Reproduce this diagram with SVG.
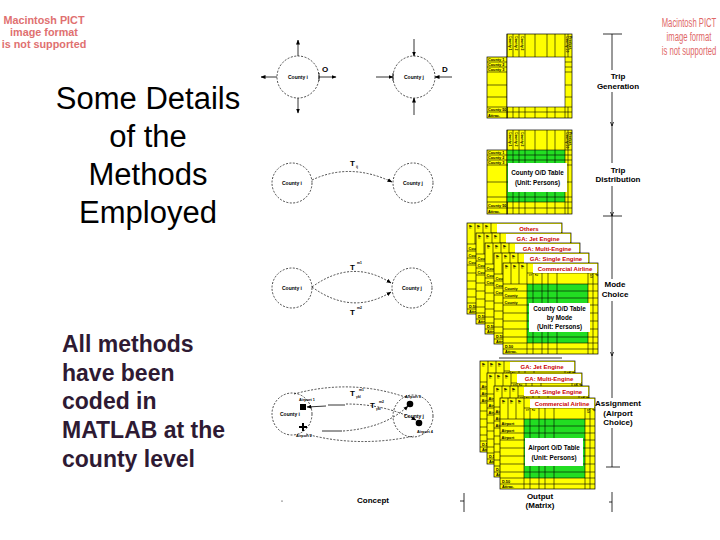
<svg xmlns="http://www.w3.org/2000/svg" width="720" height="540" viewBox="0 0 720 540">
<style>
.pict{font-family:"Liberation Sans",Arial,sans-serif;font-weight:bold;font-size:10.8px;fill:#e07070;text-anchor:middle}
.pict2{font-family:"Liberation Sans",Arial,sans-serif;font-size:12px;fill:#e06868;text-anchor:middle}
.title{font-family:"Liberation Sans",Arial,sans-serif;font-size:31px;fill:#000;text-anchor:middle}
.note{font-family:"Liberation Sans",Arial,sans-serif;font-size:23px;font-weight:bold;fill:#2e1a33}
.lab{font-family:"Liberation Sans",Arial,sans-serif;font-size:8px;font-weight:bold;text-anchor:middle}
.cl{font-family:"Liberation Sans",Arial,sans-serif;font-size:5px;font-weight:bold;text-anchor:middle}
.sm{font-family:"Liberation Sans",Arial,sans-serif;font-size:3.8px;font-weight:bold;text-anchor:middle}
.tiny{font-family:"Liberation Sans",Arial,sans-serif;font-size:3.8px;font-weight:bold}
.vt{font-family:"Liberation Sans",Arial,sans-serif;font-size:3.4px;font-weight:bold}
.tt{font-family:"Liberation Sans",Arial,sans-serif;font-size:6px;font-weight:bold;fill:#cc0000;text-anchor:middle}
.bx{font-family:"Liberation Sans",Arial,sans-serif;font-size:6.3px;font-weight:bold;text-anchor:middle}
.T{font-family:"Liberation Sans",Arial,sans-serif;font-size:8px;font-weight:bold}
.yl{fill:#ffff00;stroke:#000;stroke-width:0.7}
.gr{fill:#22dd22}
.wh{fill:#fff}
.ln{stroke:#000;stroke-width:0.6;fill:none}
.dc{fill:none;stroke:#000;stroke-width:0.7;stroke-dasharray:2 1.5}
.sl{fill:none;stroke:#000;stroke-width:0.8}
</style>
<defs>
<marker id="ah" markerWidth="5" markerHeight="5" refX="4.5" refY="2.5" orient="auto" markerUnits="userSpaceOnUse"><path d="M0,0.5 L5,2.5 L0,4.5 z" fill="#000"/></marker>
<g id="sheetBase">
<rect x="0" y="0" width="95" height="91" class="yl"/>
<rect x="24" y="21" width="61" height="59" class="gr"/>
<path class="ln" d="M8,0V21M16,0V21M24,0V91M30,10V91M39,10V91M45,10V91M54,10V91M85,10V91M90,10V91M24,10H95M0,21H95M0,28H95M0,35H95M0,42H95M0,50H95M0,58H95M0,66H95M0,74H95M0,80H95M0,86H95"/>
<rect x="30" y="1" width="64" height="9" class="wh"/>
<text class="vt" transform="translate(2,2) rotate(90)">Ai</text>
<text class="vt" transform="translate(10,2) rotate(90)">Ai</text>
<text class="vt" transform="translate(18,2) rotate(90)">Ai</text>
<text class="vt" transform="translate(25.5,11) rotate(90)">1</text>
<text class="vt" transform="translate(31.5,11) rotate(90)">2</text>
<text class="vt" transform="translate(86.5,11) rotate(90)">50</text>
<text class="vt" transform="translate(91.5,11) rotate(90)">P</text>
<text class="tiny" x="2" y="84.5">D.50</text>
<text class="tiny" x="2" y="89.5">Attrac.</text>
</g>
<g id="sheetC">
<use href="#sheetBase"/>
<text class="tiny" x="1.5" y="26.5">County</text>
<text class="tiny" x="1.5" y="33.5">County</text>
<text class="tiny" x="1.5" y="40.5">County</text>
</g>
<g id="sheetA">
<use href="#sheetBase"/>
<text class="tiny" x="1.5" y="26.5">Airport</text>
<text class="tiny" x="1.5" y="33.5">Airport</text>
<text class="tiny" x="1.5" y="40.5">Airport</text>
</g>
</defs>
<rect width="720" height="540" fill="#fff"/>

<g id="pict-left">
<text class="pict" x="44" y="24">Macintosh PICT</text>
<text class="pict" x="44" y="36">image format</text>
<text class="pict" x="44" y="48">is not supported</text>
</g>
<g id="pict-right" transform="translate(689,0) scale(0.64,1)">
<text class="pict2" x="0" y="27">Macintosh PICT</text>
<text class="pict2" x="0" y="41">image format</text>
<text class="pict2" x="0" y="55">is not supported</text>
</g>

<g id="title">
<text class="title" x="148" y="109">Some Details</text>
<text class="title" x="148" y="147">of the</text>
<text class="title" x="148" y="185">Methods</text>
<text class="title" x="148" y="223">Employed</text>
</g>
<g id="note">
<text class="note" x="62" y="352">All methods</text>
<text class="note" x="62" y="381">have been</text>
<text class="note" x="62" y="409">coded in</text>
<text class="note" x="62" y="438">MATLAB at the</text>
<text class="note" x="62" y="467">county level</text>
</g>

<g id="concept-generation">
<circle cx="298" cy="77" r="21" class="dc"/>
<text class="cl" x="298" y="79">County i</text>
<circle cx="414" cy="77" r="21" class="dc"/>
<text class="cl" x="414" y="79">County j</text>
<text class="T" x="322" y="72" font-size="6">O</text>
<text class="T" x="442" y="72" font-size="6">D</text>
</g>
<g id="concept-distribution">
<circle cx="292" cy="183" r="20" class="dc"/>
<text class="cl" x="292" y="185">County i</text>
<circle cx="413" cy="183" r="20" class="dc"/>
<text class="cl" x="413" y="185">County j</text>
<text class="T" x="350" y="166">T</text><text class="vt" x="356" y="168">ij</text>
</g>
<g id="concept-mode">
<circle cx="292" cy="288" r="20" class="dc"/>
<text class="cl" x="292" y="290">County i</text>
<circle cx="412" cy="288" r="20" class="dc"/>
<text class="cl" x="412" y="290">County j</text>
<text class="T" x="350" y="270">T</text><text class="vt" x="357" y="264">m1</text>
<text class="T" x="350" y="315">T</text><text class="vt" x="357" y="309">m2</text>
</g>
<g id="concept-assignment">
<ellipse cx="292" cy="414" rx="20" ry="21" class="dc"/>
<ellipse cx="413" cy="416" rx="20" ry="21" class="dc"/>
<text class="cl" x="290" y="416">County i</text>
<text class="cl" x="414" y="418">County j</text>
<rect x="300" y="404" width="6" height="6" fill="#000"/>
<text class="sm" x="307" y="401">Airport 1</text>
<path d="M302,423h2v3h3v2h-3v3h-2v-3h-3v-2h3z" fill="#000"/>
<text class="sm" x="304" y="437">Airport 2</text>
<circle cx="410" cy="404" r="3.3" fill="#000"/>
<text class="sm" x="413" y="398">Airport 3</text>
<circle cx="419" cy="423" r="3.3" fill="#000"/>
<text class="sm" x="425" y="433">Airport 4</text>
<text class="T" x="350" y="396">T</text><text class="vt" x="356" y="398">ykl</text><text class="vt" x="359" y="391">m1</text>
<text class="T" x="370" y="408">T</text><text class="vt" x="376" y="410">ykl</text><text class="vt" x="379" y="403">m2</text>
</g>
<g id="concept-footer">
<text class="lab" x="373" y="503">Concept</text>
<circle cx="282" cy="501" r="0.6" fill="#000"/>
</g>

<g id="trip-gen-table" transform="translate(487,34)">
<rect x="20" y="0" width="65" height="84" class="yl"/>
<rect x="0" y="23" width="20" height="61" class="yl"/>
<rect x="20" y="23" width="58" height="50" class="wh"/>
<path class="ln" d="M26,0V23M32,0V23M38,0V23M48,0V23M60,0V23M68,0V23M78,0V84M81,0V23M26,73V84M32,73V84M38,73V84M48,73V84M60,73V84M68,73V84M81,73V84M20,23H85M0,28H20M0,33H20M0,38H20M0,51H20M0,63H20M78,28H85M78,33H85M78,38H85M78,51H85M78,63H85M0,73H85M0,78H85M20,0V84"/>
<text class="vt" transform="translate(21.5,2) rotate(90)">County 1</text>
<text class="vt" transform="translate(27.5,2) rotate(90)">County 2</text>
<text class="vt" transform="translate(33.5,2) rotate(90)">County 3</text>
<text class="vt" transform="translate(78.8,2) rotate(90)">County 50</text>
<text class="vt" transform="translate(81.8,2) rotate(90)">Product.</text>
<text class="tiny" x="1" y="27">County 1</text>
<text class="tiny" x="1" y="32">County 2</text>
<text class="tiny" x="1" y="37">County 3</text>
<text class="tiny" x="1" y="77">County 50</text>
<text class="tiny" x="1" y="82.5">Attrac.</text>
</g>

<g id="trip-dist-table" transform="translate(487,130)">
<rect x="20" y="0" width="65" height="84" class="yl"/>
<rect x="0" y="20" width="20" height="64" class="yl"/>
<rect x="20" y="20" width="58" height="52" class="gr"/>
<path class="ln" d="M26,0V84M32,0V84M38,0V84M48,0V84M60,0V84M68,0V84M78,0V84M81,0V84M20,20H85M0,25H85M0,30H85M0,35H85M0,52H85M0,67H85M0,72H85M0,78H85M20,0V84"/>
<text class="vt" transform="translate(21.5,2) rotate(90)">County 1</text>
<text class="vt" transform="translate(27.5,2) rotate(90)">County 2</text>
<text class="vt" transform="translate(33.5,2) rotate(90)">County 3</text>
<text class="vt" transform="translate(78.8,2) rotate(90)">County 50</text>
<text class="vt" transform="translate(81.8,2) rotate(90)">Product.</text>
<text class="tiny" x="1" y="24">County 1</text>
<text class="tiny" x="1" y="29">County 2</text>
<text class="tiny" x="1" y="34">County 3</text>
<text class="tiny" x="1" y="76.5">County 50</text>
<text class="tiny" x="1" y="82.5">Attrac.</text>
<rect x="21" y="33" width="59" height="29" class="wh"/>
<text class="bx" x="50.5" y="45">County O/D Table</text>
<text class="bx" x="50.5" y="55">(Unit: Persons)</text>
</g>

<g id="mode-stack">
<use href="#sheetC" x="467" y="223"/><text class="tt" x="529" y="231">Others</text>
<use href="#sheetC" x="476" y="233"/><text class="tt" x="538" y="241">GA: Jet Engine</text>
<use href="#sheetC" x="485" y="243"/><text class="tt" x="547" y="251">GA: Multi-Engine</text>
<use href="#sheetC" x="494" y="253"/><text class="tt" x="556" y="261">GA: Single Engine</text>
<use href="#sheetC" x="503" y="263"/><text class="tt" x="565" y="271">Commercial Airline</text>
<rect x="529" y="303" width="61" height="29" class="wh"/>
<text class="bx" x="559.5" y="311">County O/D Table</text>
<text class="bx" x="559.5" y="320">by Mode</text>
<text class="bx" x="559.5" y="329">(Unit: Persons)</text>
<line x1="499" y1="358" x2="562" y2="358" class="sl"/>
</g>

<g id="assign-stack">
<use href="#sheetA" x="480" y="361"/><text class="tt" x="542" y="369">GA: Jet Engine</text>
<use href="#sheetA" x="487" y="373"/><text class="tt" x="549" y="381">GA: Multi-Engine</text>
<use href="#sheetA" x="494" y="386"/><text class="tt" x="556" y="394">GA: Single Engine</text>
<use href="#sheetA" x="500" y="398"/><text class="tt" x="562" y="406">Commercial Airline</text>
<rect x="525" y="438" width="58" height="28" class="wh"/>
<text class="bx" x="554" y="450">Airport O/D Table</text>
<text class="bx" x="554" y="460">(Unit: Persons)</text>
</g>

<g id="stage-labels">
<text class="lab" x="618" y="79">Trip</text>
<text class="lab" x="618" y="89">Generation</text>
<text class="lab" x="618" y="173">Trip</text>
<text class="lab" x="618" y="182">Distribution</text>
<text class="lab" x="615" y="287">Mode</text>
<text class="lab" x="615" y="297">Choice</text>
<text class="lab" x="618" y="406">Assignment</text>
<text class="lab" x="618" y="416">(Airport</text>
<text class="lab" x="618" y="425">Choice)</text>
<text class="lab" x="540" y="499">Output</text>
<text class="lab" x="540" y="508">(Matrix)</text>
</g>

<g id="connectors">
<line x1="298" y1="56" x2="298" y2="40" class="sl" marker-end="url(#ah)"/>
<line x1="298" y1="98" x2="298" y2="113" class="sl" marker-end="url(#ah)"/>
<line x1="277" y1="77" x2="261" y2="77" class="sl" marker-end="url(#ah)"/>
<line x1="319" y1="77" x2="336" y2="77" class="sl" marker-end="url(#ah)"/>
<line x1="319" y1="73" x2="319" y2="81" class="sl"/>
<line x1="414" y1="39" x2="414" y2="56" class="sl" marker-end="url(#ah)"/>
<line x1="414" y1="115" x2="414" y2="98" class="sl" marker-end="url(#ah)"/>
<line x1="376" y1="77" x2="393" y2="77" class="sl" marker-end="url(#ah)"/>
<line x1="452" y1="77" x2="435" y2="77" class="sl" marker-end="url(#ah)"/>
<line x1="393" y1="73" x2="393" y2="81" class="sl"/>
<path d="M312,180 Q350,162 392,182" class="dc" marker-end="url(#ah)"/>
<path d="M312,287 Q352,258 391,283" class="dc" marker-end="url(#ah)"/>
<path d="M312,287 Q352,316 391,292" class="dc" marker-end="url(#ah)"/>
<path d="M294,394 Q352,378 408,398" class="dc"/>
<path d="M326,406 L307,407" class="sl" marker-end="url(#ah)"/>
<line x1="328" y1="405" x2="345" y2="405" class="sl"/>
<path d="M346,404 Q385,404 416,420" class="dc" marker-end="url(#ah)"/>
<line x1="322" y1="431" x2="342" y2="431" class="sl"/>
<path d="M343,431 Q385,428 408,406" class="dc" marker-end="url(#ah)"/>
<path d="M306,434 Q358,448 414,436" class="dc"/>
<path d="M612,34V70M612,92V163M612,186V279M612,301V398M612,428V467" class="sl"/>
<line x1="603" y1="34" x2="622" y2="34" class="sl"/>
<line x1="603" y1="216" x2="622" y2="216" class="sl"/>
<line x1="606" y1="467" x2="620" y2="467" class="sl"/>
<path d="M610.5,122 L612,126 L613.5,122" class="sl"/>
<path d="M610.5,352 L612,356 L613.5,352" class="sl"/>
<path d="M610.5,212 L612,216 L613.5,212" class="sl"/>
<path d="M612,492V512M609,502H612" class="sl"/>
<path d="M464,493V512M460,501H464" class="sl"/>
</g>
</svg>
